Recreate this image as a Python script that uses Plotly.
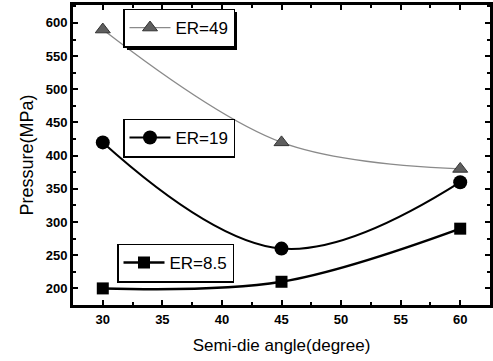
import plotly.graph_objects as go

angles = [30, 45, 60]
er49 = [590, 420, 380]
er19 = [420, 260, 360]
er85 = [200, 210, 290]
x_ticks = [30, 35, 40, 45, 50, 55, 60]
y_ticks = [200, 250, 300, 350, 400, 450, 500, 550, 600]

fig = go.Figure()
fig.add_trace(go.Scatter(x=angles, y=er49, name="ER=49", mode="lines+markers",
                         line=dict(color="#8a8a8a", width=1.3, shape="spline", smoothing=1.0),
                         marker=dict(symbol="triangle-up", size=13, color="#5e5e5e",
                                     line=dict(color="#333", width=1)),
                         legend="legend"))
fig.add_trace(go.Scatter(x=angles, y=er19, name="ER=19", mode="lines+markers",
                         line=dict(color="black", width=2, shape="spline", smoothing=1.1),
                         marker=dict(symbol="circle", size=14, color="black"),
                         legend="legend2"))
fig.add_trace(go.Scatter(x=angles, y=er85, name="ER=8.5", mode="lines+markers",
                         line=dict(color="black", width=2.5, shape="spline", smoothing=1.0),
                         marker=dict(symbol="square", size=12, color="black"),
                         legend="legend3"))

W, H = 493, 361
ml, mr, mt, mb = 73, 3, 5, 56
pw, ph = W - ml - mr, H - mt - mb

def px2paper(x, y):
    return (x - ml) / pw, (H - mb - y) / ph

legend_common = dict(bgcolor="white", bordercolor="black", borderwidth=1.5,
                      font=dict(family="Arial", size=17, color="black"),
                      itemwidth=41,
                      xanchor="left", yanchor="middle", itemclick=False)
centers = [(123, 28), (123, 138), (117, 263)]
legends = {}
for i, (x0, yc) in enumerate(centers):
    lx, ly = px2paper(x0, yc)
    key = "legend" if i == 0 else f"legend{i+1}"
    legends[key] = dict(x=lx, y=ly, **legend_common)

axis_common = dict(showgrid=False, zeroline=False, showline=True, linecolor="black", linewidth=3,
                   mirror="allticks", ticks="inside", ticklen=5, tickwidth=2, tickcolor="black",
                   automargin=False,
                   tickfont=dict(family="Arial", size=13, color="black", weight="bold"))

fig.update_layout(
    width=W, height=H,
    margin=dict(l=ml, r=mr, t=mt, b=mb),
    plot_bgcolor="white", paper_bgcolor="white",
    showlegend=True,
    xaxis=dict(range=[27.5, 62.5], tickvals=x_ticks,
               minor=dict(dtick=2.5, ticks="inside", ticklen=3, tickwidth=1.5, tickcolor="black"),
               title=dict(text="Semi-die angle(degree)", font=dict(family="Arial", size=17, color="black"), standoff=14),
               **axis_common),
    yaxis=dict(range=[175, 627], tickvals=y_ticks,
               minor=dict(dtick=25, ticks="inside", ticklen=3, tickwidth=1.5, tickcolor="black"),
               title=dict(text="Pressure(MPa)", font=dict(family="Arial", size=18, color="black"), standoff=8),
               **axis_common),
    **legends,
)

post = """
document.body.style.margin='0';
document.body.style.overflow='hidden';
var gd = document.getElementById('{plot_id}');
function addShadows(){
  gd.querySelectorAll('.legendshadow').forEach(function(e){ e.remove(); });
  gd.querySelectorAll('g.legend').forEach(function(lg){
    var bg = lg.querySelector('rect.bg');
    if(!bg) return;
    var s = bg.cloneNode(false);
    s.setAttribute('class', 'legendshadow');
    s.style.fill = 'black';
    s.style.stroke = 'none';
    s.style.strokeWidth = '0';
    s.setAttribute('transform', (bg.getAttribute('transform') || '') + ' translate(3,3)');
    bg.parentNode.insertBefore(s, bg);
  });
}
addShadows();
setTimeout(addShadows, 100);
if (gd.on) { gd.on('plotly_afterplot', addShadows); }
"""

fig.write_html("out.html", config={"displayModeBar": False}, post_script=post)
